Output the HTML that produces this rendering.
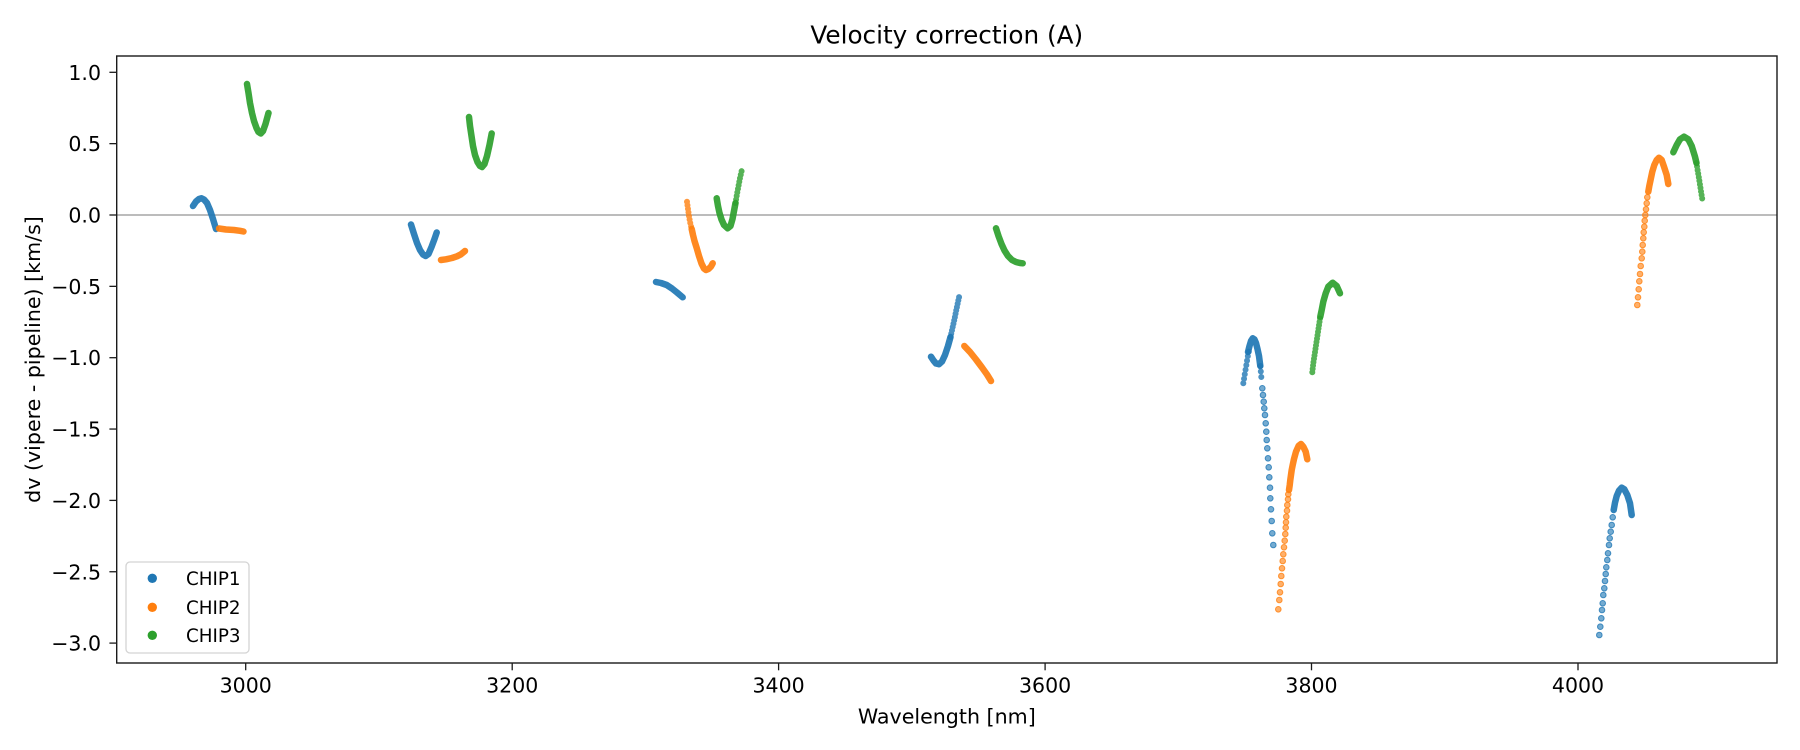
<!DOCTYPE html>
<html>
<head>
<meta charset="utf-8">
<style>
  html, body { margin: 0; padding: 0; background: #ffffff; }
  svg { display: block; }
  text { font-family: "DejaVu Sans", "Liberation Sans", sans-serif; fill: #000; }
</style>
</head>
<body>
<svg xmlns="http://www.w3.org/2000/svg" width="1800" height="750" viewBox="0 0 1800 750">
  <rect x="0" y="0" width="1800" height="750" fill="#ffffff"/>

  <!-- zero line -->
  <line x1="117" y1="215" x2="1777" y2="215" stroke="#7a7a7a" stroke-width="0.9"/>

  <g fill="none" stroke-linecap="round" stroke-linejoin="round">
    <!-- ===== BLUE (CHIP1) ===== -->
    <g stroke="#1f77b4" stroke-width="6.5" stroke-opacity="0.92">
      <path d="M193,206 L196,201.5 L199,199 L201.5,198.3 L204,199.5 L207,203 L210,210 L213,219 L216,229"/>
      <path d="M411,224.5 L414,234 L417,243 L420,250 L423,254.5 L425.7,256 L428.5,254 L431.5,247 L434.5,239 L436.7,232.5"/>
      <path d="M656,282 L661,283 L666.7,285 L672,288.5 L677,292.5 L682.7,297.3"/>
      <path d="M931,356.7 L933.5,360.5 L936,363.5 L939,364.2 L942,361.5 L945,355 L948,346 L950.5,337"/>
      <path d="M1248,352 L1249.5,346 L1251,341 L1252.7,338.3 L1254.5,339.5 L1256,343 L1257.5,349 L1259,356 L1260.3,366"/>
      <path d="M1613.7,510 L1615,502.7 L1616.7,496 L1619,490.7 L1621.7,487.7 L1624.3,489.3 L1627.3,495 L1630,503.3 L1631.7,515"/>
    </g>
    <g stroke="#1f77b4" stroke-width="6" stroke-opacity="0.8">
      <path stroke-dasharray="0 3.4" d="M950.5,337 L952.5,328 L954.5,319 L956.3,310 L958,302 L959.3,296"/>
      <path stroke-dasharray="0 4.6" d="M1243.3,383.3 L1244.3,377.3 L1245,372.7 L1246,367.3 L1246.7,362.7 L1247.7,356.7 L1249,350.7"/>
      <path stroke-dasharray="0 5.5" d="M1260.3,366 L1261,373.5 L1261.7,381.7"/>
    </g>

    <!-- ===== ORANGE (CHIP2) ===== -->
    <g stroke="#ff7f0e" stroke-width="6.5" stroke-opacity="0.92">
      <path d="M219,228.5 L226,229.5 L234,230 L240,230.8 L243.5,231.5"/>
      <path d="M441,260 L446,259.3 L452,258 L457,256.3 L461,254.3 L465,251"/>
      <path d="M691.7,229 L693,235 L694.5,241 L696.7,248 L699,256 L701.5,263.5 L704,268.5 L706,270 L708.5,269 L711,266.5 L712.7,263.3"/>
      <path d="M964.3,346 L970,352 L976,359.5 L982,367.5 L987,374.5 L991,381"/>
      <path d="M1289,490 L1289.7,485.3 L1290.3,480 L1291,475 L1291.7,470 L1292.7,465 L1294,459 L1296,451.7 L1298.7,445.7 L1301,444 L1303.3,446.7 L1305.7,451.7 L1307.3,459.3"/>
      <path d="M1648.3,191.7 L1649.3,186 L1650.7,179.3 L1652.3,171.7 L1654.3,165 L1656.7,160 L1659,157.7 L1661.7,160 L1664,166.7 L1666.7,175 L1668.3,184"/>
    </g>
    <g stroke="#ff7f0e" stroke-width="6" stroke-opacity="0.8">
      <path stroke-dasharray="0 3.6" d="M687,201.7 L688,209 L689,216 L690,222 L691.7,229"/>
    </g>

    <!-- ===== GREEN (CHIP3) ===== -->
    <g stroke="#2ca02c" stroke-width="6.5" stroke-opacity="0.92">
      <path d="M247,84 L248.5,93 L250,103 L252,113 L254,121 L256.5,128 L258.5,132 L260.7,133.5 L263,131 L265.5,124 L268.5,113"/>
      <path d="M469,117 L470,126 L471.5,136 L473,146 L475,155 L477.5,162 L480,166 L482,167 L484.5,164 L487,156 L489.5,145 L491.7,133.5"/>
      <path d="M716.7,198.3 L718,206 L719.5,213 L721.5,219.5 L724,225 L727.7,228.3 L730.5,226 L732.5,219 L734,211 L735.5,203"/>
      <path d="M996,228.3 L998.5,236 L1001.5,244 L1004.5,250.5 L1008,256 L1012,260 L1016,262 L1020,263 L1022.7,263.3"/>
      <path d="M1320.3,316.7 L1321.7,310 L1323.3,301.7 L1325.7,293.3 L1328.3,286.7 L1332.7,282.7 L1336.7,286 L1340,293.3"/>
      <path d="M1673.3,152.3 L1676.7,145 L1680,139.3 L1684,136.7 L1688.3,139.3 L1691.7,146 L1695,156.7 L1696.5,163"/>
    </g>
    <g stroke="#2ca02c" stroke-width="6" stroke-opacity="0.8">
      <path stroke-dasharray="0 3.6" d="M735.5,203 L737,194 L738.5,186 L740,178 L741.7,170.7"/>
      <path stroke-dasharray="0 3.4" d="M1312.3,372.3 L1313.3,363.3 L1314.3,356.7 L1315.3,350 L1316.3,343.3 L1317.3,336.7 L1318.3,330 L1319.3,323.3 L1320.3,316.7"/>
      <path stroke-dasharray="0 3.6" d="M1696.5,163 L1697.3,168.3 L1699,178.3 L1700.3,186.7 L1701.3,193.3 L1702.3,199.3"/>
    </g>
  </g>

  <!-- sparse individual dots -->
  <g fill="#1f77b4" fill-opacity="0.62" stroke="#1f77b4" stroke-opacity="0.8" stroke-width="1">
    <circle cx="1262.3" cy="388.3" r="2.8"/><circle cx="1263" cy="395" r="2.8"/>
    <circle cx="1263.7" cy="401.7" r="2.8"/><circle cx="1264.3" cy="408.3" r="2.8"/>
    <circle cx="1265" cy="415" r="2.8"/><circle cx="1265.7" cy="423.3" r="2.8"/>
    <circle cx="1266.3" cy="431.7" r="2.8"/><circle cx="1266.7" cy="440" r="2.8"/>
    <circle cx="1267.3" cy="448.3" r="2.8"/><circle cx="1268" cy="458.3" r="2.8"/>
    <circle cx="1268.7" cy="467.3" r="2.8"/><circle cx="1269.3" cy="477.3" r="2.8"/>
    <circle cx="1270" cy="487.7" r="2.8"/><circle cx="1270.3" cy="498.3" r="2.8"/>
    <circle cx="1271" cy="509.3" r="2.8"/><circle cx="1271.7" cy="521" r="2.8"/>
    <circle cx="1272.3" cy="533.3" r="2.8"/><circle cx="1273.3" cy="545" r="2.8"/>

    <circle cx="1599.3" cy="635" r="2.8"/><circle cx="1600.3" cy="626.7" r="2.8"/>
    <circle cx="1601.3" cy="618.3" r="2.8"/><circle cx="1602" cy="610" r="2.8"/>
    <circle cx="1602.7" cy="603.3" r="2.8"/><circle cx="1603.3" cy="595" r="2.8"/>
    <circle cx="1604.3" cy="588.3" r="2.8"/><circle cx="1605" cy="581" r="2.8"/>
    <circle cx="1605.7" cy="574" r="2.8"/><circle cx="1606.3" cy="567.3" r="2.8"/>
    <circle cx="1607.3" cy="560" r="2.8"/><circle cx="1608" cy="553.3" r="2.8"/>
    <circle cx="1609" cy="545" r="2.8"/><circle cx="1609.7" cy="538.3" r="2.8"/>
    <circle cx="1610.7" cy="531.7" r="2.8"/><circle cx="1611.7" cy="525" r="2.8"/>
    <circle cx="1612.7" cy="517.3" r="2.8"/>
  </g>
  <g fill="#ff7f0e" fill-opacity="0.62" stroke="#ff7f0e" stroke-opacity="0.8" stroke-width="1">
    <circle cx="1278.3" cy="609.3" r="2.8"/><circle cx="1279.3" cy="600" r="2.8"/>
    <circle cx="1280" cy="592.3" r="2.8"/><circle cx="1280.7" cy="584" r="2.8"/>
    <circle cx="1281.3" cy="576" r="2.8"/><circle cx="1282" cy="568.3" r="2.8"/>
    <circle cx="1282.7" cy="561" r="2.8"/><circle cx="1283.3" cy="554.3" r="2.8"/>
    <circle cx="1284" cy="547.3" r="2.8"/><circle cx="1284.7" cy="540.7" r="2.8"/>
    <circle cx="1285.3" cy="534" r="2.8"/><circle cx="1285.7" cy="527.7" r="2.8"/>
    <circle cx="1286" cy="522.3" r="2.8"/><circle cx="1286.3" cy="516.7" r="2.8"/>
    <circle cx="1287" cy="510.7" r="2.8"/><circle cx="1287.3" cy="505" r="2.8"/>
    <circle cx="1288" cy="499.3" r="2.8"/><circle cx="1288.3" cy="494.3" r="2.8"/>

    <circle cx="1637.3" cy="305" r="2.8"/><circle cx="1638" cy="297.3" r="2.8"/>
    <circle cx="1638.7" cy="289.3" r="2.8"/><circle cx="1639.3" cy="281.3" r="2.8"/>
    <circle cx="1640" cy="274" r="2.8"/><circle cx="1640.7" cy="266" r="2.8"/>
    <circle cx="1641.7" cy="258.3" r="2.8"/><circle cx="1642.3" cy="251.7" r="2.8"/>
    <circle cx="1642.7" cy="245" r="2.8"/><circle cx="1643.3" cy="238.3" r="2.8"/>
    <circle cx="1643.7" cy="232.3" r="2.8"/><circle cx="1644.3" cy="226.7" r="2.8"/>
    <circle cx="1644.7" cy="220.7" r="2.8"/><circle cx="1645.3" cy="215" r="2.8"/>
    <circle cx="1646" cy="209.3" r="2.8"/><circle cx="1646.7" cy="203.3" r="2.8"/>
    <circle cx="1647.3" cy="197.3" r="2.8"/>
  </g>

  <!-- axes frame -->
  <rect x="116.7" y="56" width="1660.3" height="607" fill="none" stroke="#1a1a1a" stroke-width="1.4"/>

  <!-- y ticks -->
  <g stroke="#1a1a1a" stroke-width="1.3">
    <line x1="109.4" y1="72.3" x2="116.7" y2="72.3"/>
    <line x1="109.4" y1="143.65" x2="116.7" y2="143.65"/>
    <line x1="109.4" y1="215" x2="116.7" y2="215"/>
    <line x1="109.4" y1="286.35" x2="116.7" y2="286.35"/>
    <line x1="109.4" y1="357.7" x2="116.7" y2="357.7"/>
    <line x1="109.4" y1="429.05" x2="116.7" y2="429.05"/>
    <line x1="109.4" y1="500.4" x2="116.7" y2="500.4"/>
    <line x1="109.4" y1="571.75" x2="116.7" y2="571.75"/>
    <line x1="109.4" y1="643.1" x2="116.7" y2="643.1"/>
  </g>
  <g font-size="20.5" text-anchor="end">
    <text x="101" y="79.8">1.0</text>
    <text x="101" y="151.15">0.5</text>
    <text x="101" y="222.5">0.0</text>
    <text x="101" y="293.85">−0.5</text>
    <text x="101" y="365.2">−1.0</text>
    <text x="101" y="436.55">−1.5</text>
    <text x="101" y="507.9">−2.0</text>
    <text x="101" y="579.25">−2.5</text>
    <text x="101" y="650.6">−3.0</text>
  </g>

  <!-- x ticks -->
  <g stroke="#1a1a1a" stroke-width="1.3">
    <line x1="245.7" y1="663" x2="245.7" y2="670.3"/>
    <line x1="512.2" y1="663" x2="512.2" y2="670.3"/>
    <line x1="778.6" y1="663" x2="778.6" y2="670.3"/>
    <line x1="1045.1" y1="663" x2="1045.1" y2="670.3"/>
    <line x1="1311.5" y1="663" x2="1311.5" y2="670.3"/>
    <line x1="1578" y1="663" x2="1578" y2="670.3"/>
  </g>
  <g font-size="20.5" text-anchor="middle">
    <text x="245.7" y="692.5">3000</text>
    <text x="512.2" y="692.5">3200</text>
    <text x="778.6" y="692.5">3400</text>
    <text x="1045.1" y="692.5">3600</text>
    <text x="1311.5" y="692.5">3800</text>
    <text x="1578" y="692.5">4000</text>
  </g>

  <!-- axis labels & title -->
  <text x="946.8" y="723.5" font-size="20.6" text-anchor="middle">Wavelength [nm]</text>
  <text transform="translate(40,359.5) rotate(-90)" font-size="20.6" text-anchor="middle">dv (vipere - pipeline) [km/s]</text>
  <text x="946.8" y="43.3" font-size="24.7" text-anchor="middle">Velocity correction (A)</text>

  <!-- legend -->
  <rect x="126" y="562" width="123" height="91" rx="4" ry="4" fill="#ffffff" fill-opacity="0.8" stroke="#d4d4d4" stroke-width="1.3"/>
  <circle cx="152.3" cy="578.3" r="4.7" fill="#1f77b4"/>
  <circle cx="152.3" cy="607.3" r="4.7" fill="#ff7f0e"/>
  <circle cx="152.3" cy="635.3" r="4.7" fill="#2ca02c"/>
  <g font-size="18.3">
    <text x="186" y="585">CHIP1</text>
    <text x="186" y="614">CHIP2</text>
    <text x="186" y="642">CHIP3</text>
  </g>
</svg>
</body>
</html>
